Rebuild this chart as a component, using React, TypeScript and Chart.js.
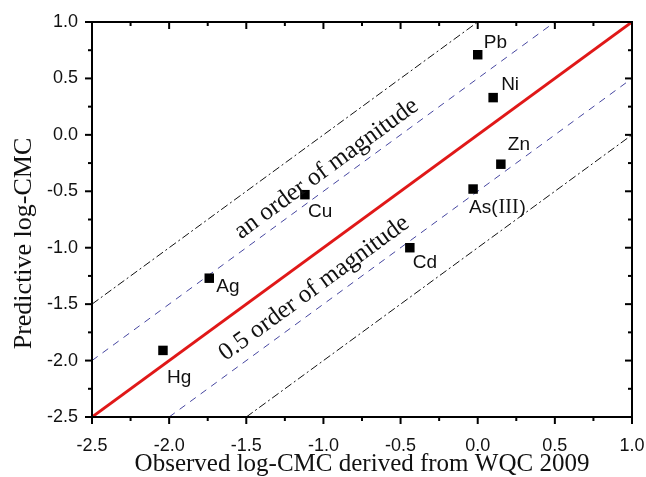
import React, { useEffect, useRef } from 'react';
import { Chart, registerables } from 'chart.js';

Chart.register(...registerables);

// ---- data ----
const metals = ['Pb', 'Ni', 'Zn', 'As(Ⅲ)', 'Cd', 'Cu', 'Ag', 'Hg'];
const observed = [0.0, 0.1, 0.15, -0.03, -0.44, -1.12, -1.74, -2.04];
const predicted = [0.71, 0.33, -0.26, -0.48, -1.0, -0.53, -1.27, -1.91];
const bandOffsets = [1, 0.5, 0, -0.5, -1];
const axisMin = -2.5;
const axisMax = 1.0;
const tickStep = 0.25;
const bandTexts = ['an order of magnitude', '0.5 order of magnitude'];
const bandTextX = [-0.98, -1.06];
const bandTextY = [-0.3, -1.36];
const xTitle = 'Observed log-CMC derived from WQC 2009';
const yTitle = 'Predictive log-CMC';

// ---- styles (pixel offsets for labels) ----
const labelDx = [6, 8, 7, -4, 3, 3, 7, 4];
const labelDy = [-12, -13, -19, 19, 15, 17, 9, 27];

const SANS = '"Liberation Sans", Arial, sans-serif';
const SERIF = '"Liberation Serif", "Times New Roman", serif';

const isMajor = (v: number) => Math.abs(v * 2 - Math.round(v * 2)) < 1e-6;

function bandLine(off: number) {
  const x0 = Math.max(axisMin, axisMin - off);
  const x1 = Math.min(axisMax, axisMax - off);
  return [
    { x: x0, y: x0 + off },
    { x: x1, y: x1 + off },
  ];
}

const decorPlugin = {
  id: 'decor',
  afterDraw(chart: any) {
    const { ctx, chartArea: a, scales } = chart;
    const x = scales.x;
    const y = scales.y;
    ctx.save();
    ctx.strokeStyle = '#000';
    ctx.lineWidth = 2;
    ctx.strokeRect(a.left, a.top, a.right - a.left, a.bottom - a.top);
    const seg = (x0: number, y0: number, x1: number, y1: number) => {
      ctx.beginPath();
      ctx.moveTo(x0, y0);
      ctx.lineTo(x1, y1);
      ctx.stroke();
    };
    x.ticks.forEach((t: any) => {
      const px = x.getPixelForValue(t.value);
      const len = isMajor(t.value) ? 7 : 4;
      seg(px, a.bottom, px, a.bottom + len);
      seg(px, a.top, px, a.top + len);
    });
    y.ticks.forEach((t: any) => {
      const py = y.getPixelForValue(t.value);
      const len = isMajor(t.value) ? 7 : 4;
      seg(a.left, py, a.left - len, py);
      seg(a.right, py, a.right - len, py);
    });

    // y title (drawn manually, slightly below center like the reference)
    ctx.save();
    ctx.fillStyle = '#111';
    ctx.font = `26px ${SERIF}`;
    ctx.textAlign = 'center';
    ctx.textBaseline = 'middle';
    ctx.translate(24, (a.top + a.bottom) / 2 + 24);
    ctx.rotate(-Math.PI / 2);
    ctx.fillText(yTitle, 0, 0);
    ctx.restore();

    // point labels
    ctx.fillStyle = '#111';
    ctx.textBaseline = 'middle';
    ctx.textAlign = 'left';
    metals.forEach((m, i) => {
      const px = x.getPixelForValue(observed[i]) + labelDx[i];
      const py = y.getPixelForValue(predicted[i]) + labelDy[i];
      const parts = m.split('Ⅲ');
      let cx = px;
      parts.forEach((p, j) => {
        ctx.font = `19px ${SANS}`;
        ctx.fillText(p, cx, py);
        cx += ctx.measureText(p).width;
        if (j < parts.length - 1) {
          ctx.font = `20px ${SERIF}`;
          ctx.fillText('III', cx + 1, py);
          cx += ctx.measureText('III').width + 2;
        }
      });
    });

    // band texts
    const ang = Math.atan2(
      y.getPixelForValue(axisMax) - y.getPixelForValue(axisMin),
      x.getPixelForValue(axisMax) - x.getPixelForValue(axisMin)
    );
    ctx.font = `25px ${SERIF}`;
    ctx.textAlign = 'center';
    ctx.textBaseline = 'middle';
    bandTexts.forEach((t, i) => {
      ctx.save();
      ctx.translate(x.getPixelForValue(bandTextX[i]), y.getPixelForValue(bandTextY[i]));
      ctx.rotate(ang);
      ctx.fillText(t, 0, 0);
      ctx.restore();
    });
    ctx.restore();
  },
};

export default function App() {
  const ref = useRef<HTMLCanvasElement>(null);
  useEffect(() => {
    if (!ref.current) return;
    const bandStyles = [
      { color: '#111', width: 1, dash: [8, 3, 2, 3] },
      { color: '#4646a0', width: 1, dash: [7, 6] },
      { color: '#e01818', width: 3, dash: [] as number[] },
      { color: '#4646a0', width: 1, dash: [7, 6] },
      { color: '#111', width: 1, dash: [8, 3, 2, 3] },
    ];
    const lineSets = bandOffsets.map((off, i) => ({
      type: 'line' as const,
      data: bandLine(off),
      borderColor: bandStyles[i].color,
      borderWidth: bandStyles[i].width,
      borderDash: bandStyles[i].dash,
      pointRadius: 0,
      fill: false,
      order: 2,
    }));
    const chart = new Chart(ref.current, {
      type: 'scatter',
      data: {
        datasets: [
          ...lineSets,
          {
            type: 'scatter' as const,
            data: observed.map((v, i) => ({ x: v, y: predicted[i] })),
            pointStyle: 'rect',
            pointRadius: 6.7,
            backgroundColor: '#000',
            borderColor: '#000',
            borderWidth: 0,
            order: 1,
          },
        ] as any,
      },
      options: {
        animation: false,
        responsive: false,
        maintainAspectRatio: false,
        layout: { padding: { top: 22, right: 14, left: 0, bottom: 0 } },
        plugins: { legend: { display: false }, tooltip: { enabled: false } },
        scales: {
          x: {
            type: 'linear',
            min: axisMin,
            max: axisMax,
            grid: { display: false, drawTicks: false },
            border: { display: false },
            ticks: {
              stepSize: tickStep,
              autoSkip: false,
              maxRotation: 0,
              padding: 18,
              color: '#111',
              font: { family: SANS, size: 18 },
              callback: (v: any) => (isMajor(Number(v)) ? Number(v).toFixed(1) : ''),
            },
            title: {
              display: true,
              text: xTitle,
              color: '#111',
              font: { family: SERIF, size: 25, lineHeight: 1.0 },
              padding: { top: 0, bottom: 0 },
            },
            afterFit: (s: any) => {
              s.height = 60;
              s.paddingLeft = 0;
              s.paddingRight = 0;
            },
          },
          y: {
            type: 'linear',
            min: axisMin,
            max: axisMax,
            grid: { display: false, drawTicks: false },
            border: { display: false },
            ticks: {
              stepSize: tickStep,
              autoSkip: false,
              padding: 14,
              color: '#111',
              font: { family: SANS, size: 18 },
              callback: (v: any) => (isMajor(Number(v)) ? Number(v).toFixed(1) : ''),
            },
            title: { display: false },
            afterFit: (s: any) => {
              s.width = 92;
              s.paddingTop = 0;
              s.paddingBottom = 0;
            },
          },
        },
      },
      plugins: [decorPlugin],
    });
    return () => chart.destroy();
  }, []);
  return (
    <div style={{ position: 'fixed', left: 0, top: 0, width: 646, height: 477, background: '#fff' }}>
      <canvas ref={ref} width={646} height={477} style={{ width: 646, height: 477 }} />
    </div>
  );
}
